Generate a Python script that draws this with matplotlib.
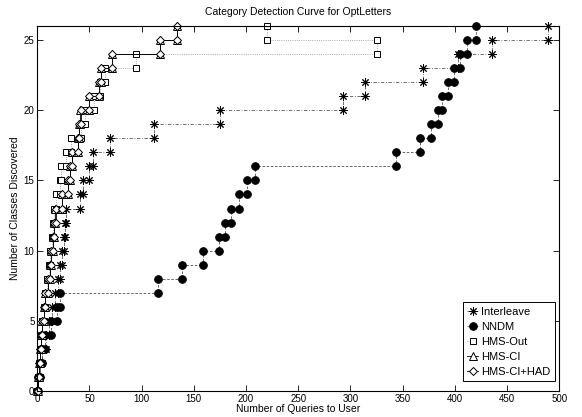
import matplotlib
matplotlib.use("Agg")
import matplotlib.pyplot as plt

plt.rcParams['font.family'] = ['Liberation Sans', 'DejaVu Sans']

# query number at which class k (k = 1..26) was discovered
interleave = [1, 3, 5, 8, 11, 14, 17, 20, 22, 24, 26, 27, 28, 41, 44, 50, 53,
              70, 112, 175, 293, 314, 369, 403, 436, 489]
nndm = [1, 3, 5, 7, 13, 19, 22, 116, 139, 159, 174, 180, 186, 193, 201, 209,
        344, 367, 377, 384, 388, 393, 399, 405, 412, 420]
hms_out = [1, 2, 3, 4, 5, 6, 7, 9, 11, 12, 14, 15, 16, 18, 22, 23, 28, 32,
           42, 46, 54, 60, 65, 95, 325, 220]
hms_ci = [1, 2, 3, 4, 5, 6, 7, 10, 12, 13, 15, 16, 17, 24, 29, 31, 33, 39,
          40, 41, 50, 59, 61, 72, 118, 134]
hms_ci_had = [1, 2, 3, 4, 5, 6, 7, 10, 12, 13, 15, 16, 18, 24, 29, 31, 33,
              39, 40, 42, 50, 59, 61, 72, 118, 134]

names = ["Interleave", "NNDM", "HMS-Out", "HMS-CI", "HMS-CI+HAD"]


def stairs(q):
    xs, ys = [0], [0]
    for k, x in enumerate(q, start=1):
        xs += [x, x]
        ys += [k - 1, k]
    return xs, ys


styles = [
    dict(ls=(0, (4, 2, 1, 2)), color="0.35", marker=(8, 2, 0), ms=6, mfc="k", mec="k"),
    dict(ls=(0, (3, 2)), color="0.3", marker="o", ms=5.5, mfc="k", mec="k"),
    dict(ls=":", color="0.55", marker="s", ms=4.5, mfc="w", mec="k"),
    dict(ls="-", color="k", marker="^", ms=5.5, mfc="w", mec="k"),
    dict(ls="-", color="k", marker="D", ms=4, mfc="w", mec="k"),
]

fig = plt.figure(figsize=(5.82, 4.17), dpi=100)
ax = fig.add_axes([0.064, 0.062, 0.897, 0.876])

for q, name, st in zip([interleave, nndm, hms_out, hms_ci, hms_ci_had], names, styles):
    xs, ys = stairs(q)
    ax.plot(xs, ys, lw=0.6, mew=0.7, label=name, clip_on=False, **st)

ax.set_xlim(0, 500)
ax.set_ylim(0, 26)
ax.set_xticks(range(0, 501, 50))
ax.set_yticks(range(0, 26, 5))
ax.tick_params(direction="in", top=True, right=True, labelsize=7, length=4, width=0.6, pad=2)
for s in ax.spines.values():
    s.set_linewidth(0.8)

ax.set_title("Category Detection Curve for OptLetters", fontsize=7.5, pad=8)
ax.set_xlabel("Number of Queries to User", fontsize=7.5, labelpad=0)
ax.set_ylabel("Number of Classes Discovered", fontsize=7.5, labelpad=3)

leg = ax.legend(loc="lower right", bbox_to_anchor=(0.992, 0.027), borderaxespad=0,
                fontsize=8, handlelength=1.0, handletextpad=0.3,
                fancybox=False, framealpha=1, edgecolor="k",
                labelspacing=0.45, borderpad=0.4)
leg.get_frame().set_linewidth(0.7)

fig.savefig("out.png", dpi=100)
